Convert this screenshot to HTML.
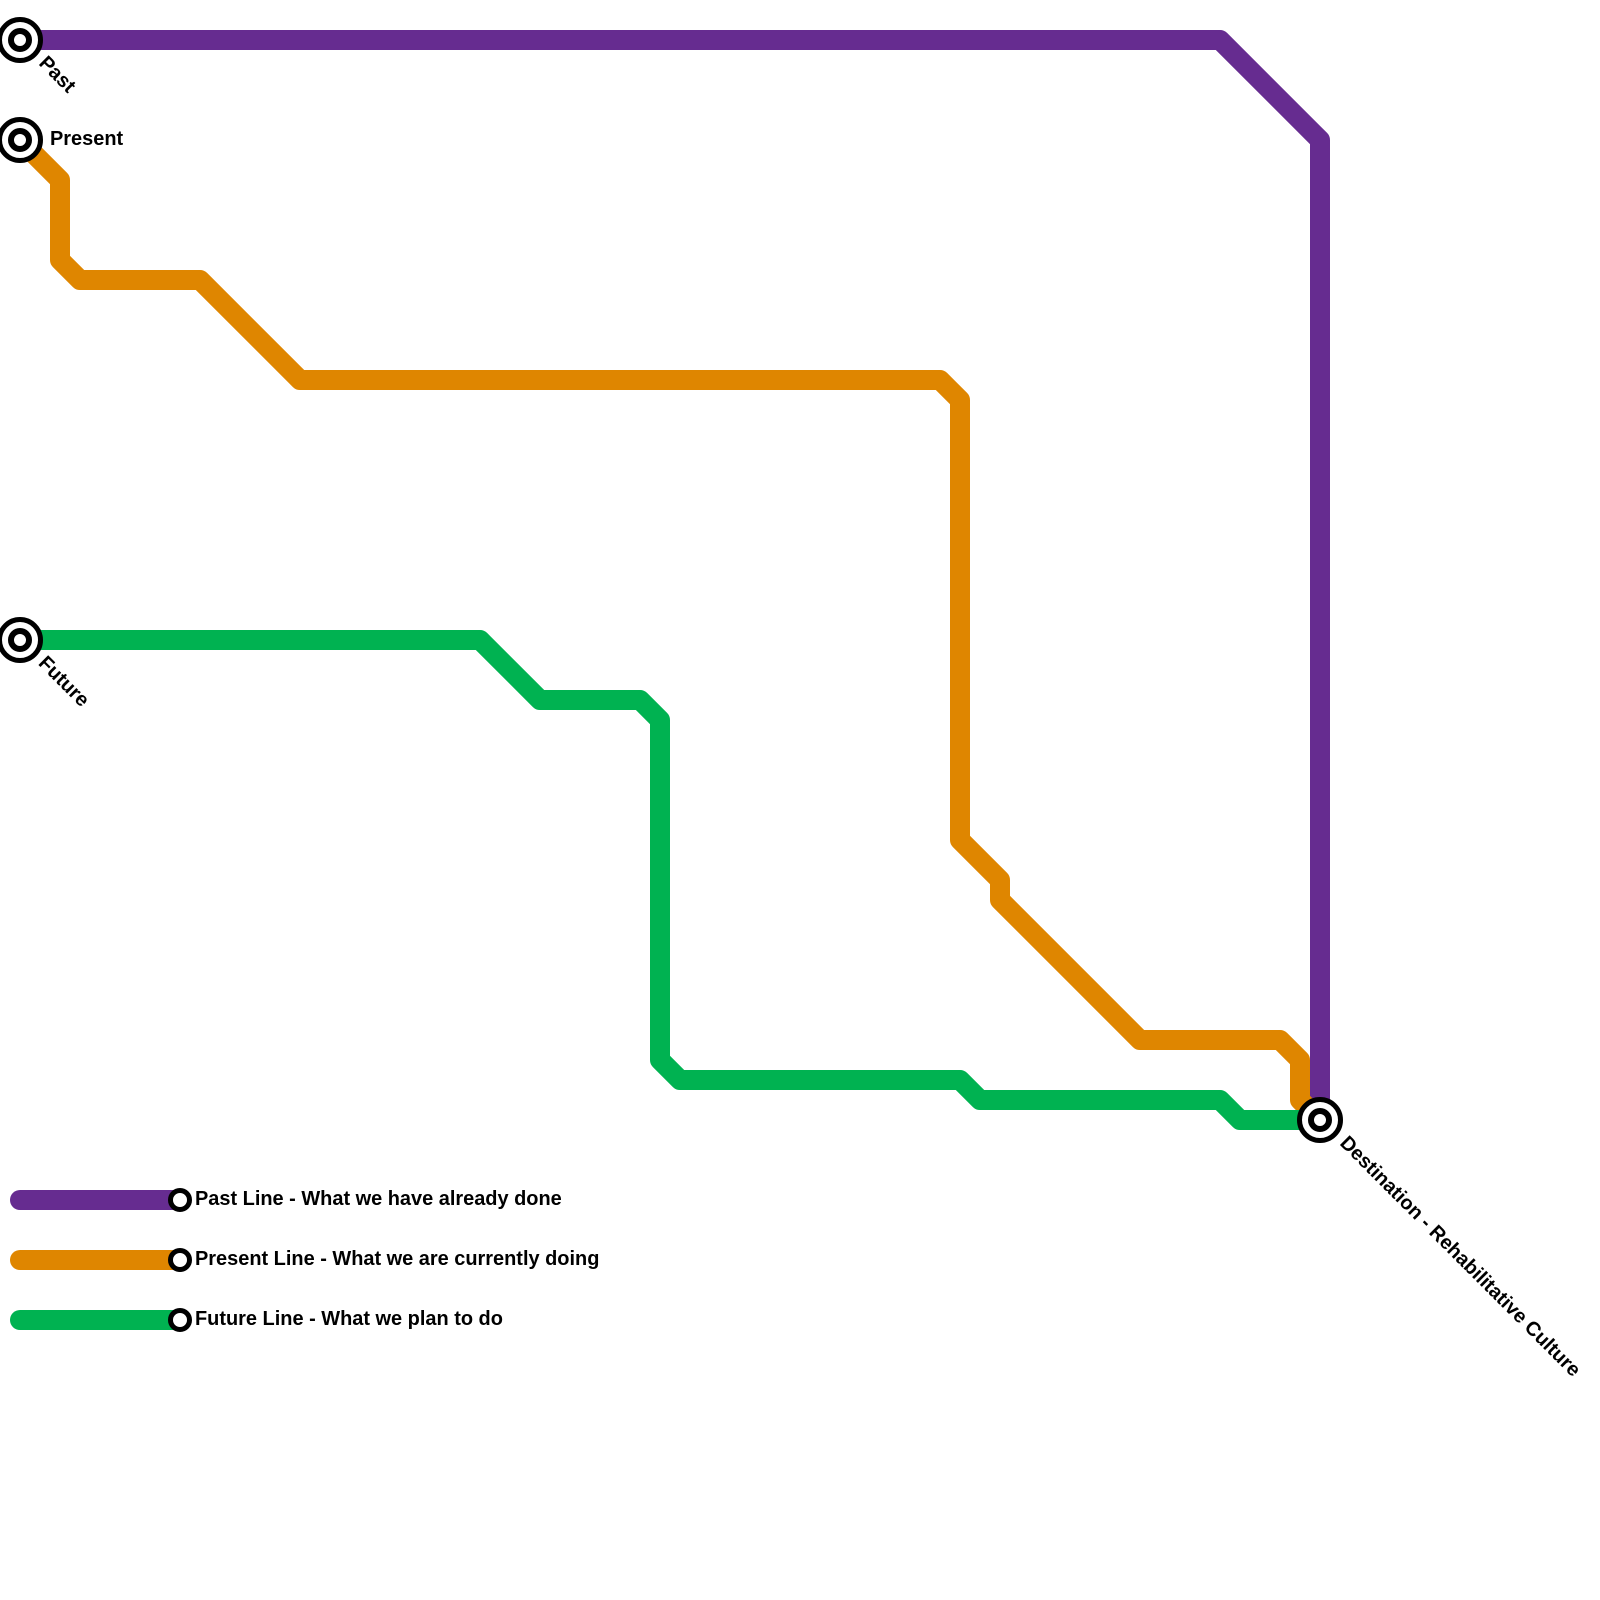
<!DOCTYPE html>
<html><head><meta charset="utf-8"><style>html,body{margin:0;padding:0;background:#fff}svg{display:block}text{font-family:"Liberation Sans",sans-serif;font-weight:bold;font-size:19.95px;fill:#000}</style></head>
<body><svg width="1600" height="1600" viewBox="0 0 1600 1600" xmlns="http://www.w3.org/2000/svg">
<g fill="none" stroke-width="20" stroke-linecap="round" stroke-linejoin="round">
<path stroke="#662c90" d="M20 40H1220L1320 140V1120"/>
<path stroke="#df8600" d="M20 140L60 180V260L80 280H200L300 380H940L960 400V840L1000 880V900L1140 1040H1280L1300 1060V1100L1320 1120"/>
<path stroke="#00b251" d="M20 640H480L540 700H640L660 720V1060L680 1080H960L980 1100H1220L1240 1120H1320"/>
<path stroke="#662c90" d="M20 1200H180"/>
<path stroke="#df8600" d="M20 1260H180"/>
<path stroke="#00b251" d="M20 1320H180"/>
</g>
<g fill="#fff" stroke="#000">
<g stroke-width="5">
<circle cx="20" cy="40" r="20.5"/>
<circle cx="20" cy="140" r="20.5"/>
<circle cx="20" cy="640" r="20.5"/>
<circle cx="1320" cy="1120" r="20.5"/>
</g>
<g stroke-width="6">
<circle cx="20" cy="40" r="9"/>
<circle cx="20" cy="140" r="9"/>
<circle cx="20" cy="640" r="9"/>
<circle cx="1320" cy="1120" r="9"/>
</g>
<g stroke-width="5">
<circle cx="180" cy="1200" r="9.5"/>
<circle cx="180" cy="1260" r="9.5"/>
<circle cx="180" cy="1320" r="9.5"/>
</g>
</g>
<text transform="translate(38 64) rotate(45)">Past</text>
<text x="50" y="145">Present</text>
<text transform="translate(37.5 664) rotate(45)">Future</text>
<text transform="translate(1339 1144) rotate(45)" style="font-size:19.9px">Destination - Rehabilitative Culture</text>
<text x="195" y="1205">Past Line - What we have already done</text>
<text x="195" y="1265">Present Line - What we are currently doing</text>
<text x="195" y="1325">Future Line - What we plan to do</text>
</svg></body></html>
